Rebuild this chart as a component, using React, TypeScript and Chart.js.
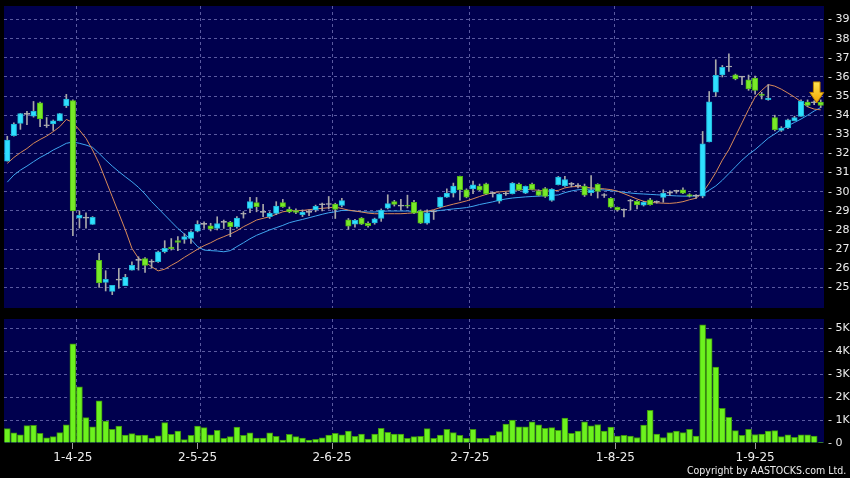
import React, { useEffect, useRef } from 'react';
import { Chart, registerables } from 'chart.js';

Chart.register(...registerables);

// ---------- data ----------
const opens = [
  31.6, 32.93, 33.57, 34.04, 33.95, 34.65, 33.45, 33.55, 33.71, 34.48,
  34.76, 28.62, 28.62, 28.29, 26.41, 25.26, 24.79, 25.38, 25.09, 25.9,
  26.41, 26.5, 26.32, 26.34, 26.86, 27.1, 27.44, 27.51, 27.56, 27.94,
  28.29, 28.22, 28.08, 28.4, 28.4, 28.17, 28.82, 29.13, 29.43, 28.92,
  28.7, 28.87, 29.43, 29.08, 29.02, 28.8, 28.92, 29.05, 29.32, 29.33,
  29.35, 29.28, 28.53, 28.3, 28.62, 28.35, 28.37, 28.6, 29.14, 29.48,
  29.25, 29.26, 29.45, 29.0, 28.36, 28.95, 29.2, 29.72, 29.93, 30.8,
  30.1, 30.14, 30.3, 30.41, 29.9, 29.5, 29.88, 29.9, 30.4, 29.92,
  30.4, 30.05, 30.17, 29.55, 30.37, 30.3, 30.38, 30.3, 30.3, 29.95,
  30.38, 29.8, 29.66, 29.18, 29.03, 29.5, 29.5, 29.29, 29.58, 29.45,
  29.7, 29.93, 30.02, 30.1, 29.85, 29.77, 29.77, 32.6, 35.2, 36.1,
  36.52, 36.11, 35.99, 35.85, 35.94, 35.1, 34.81, 33.88, 33.2, 33.33,
  33.71, 33.94, 34.69, 34.65, 34.69,
];
const highs = [
  32.9, 33.6, 34.1, 34.2, 34.72, 34.68, 33.88, 33.75, 34.1, 35.09,
  34.8, 29.0, 28.9, 28.7, 26.78, 25.87, 25.1, 25.99, 25.68, 26.34,
  26.6, 26.55, 26.45, 26.9, 27.44, 27.55, 27.65, 27.8, 27.95, 28.48,
  28.43, 28.35, 28.69, 28.52, 28.45, 28.7, 28.96, 29.7, 29.7, 29.34,
  28.95, 29.48, 29.6, 29.2, 29.1, 29.05, 29.05, 29.3, 29.4, 29.75,
  29.4, 29.65, 28.6, 28.55, 28.65, 28.42, 28.62, 29.1, 29.84, 29.55,
  29.6, 29.82, 29.55, 29.05, 29.05, 29.02, 29.72, 30.15, 30.45, 30.82,
  30.15, 30.55, 30.4, 30.45, 29.98, 29.9, 29.98, 30.48, 30.45, 30.3,
  30.45, 30.1, 30.22, 30.16, 30.8, 30.8, 30.48, 30.42, 30.4, 30.84,
  30.42, 29.9, 29.7, 29.2, 29.1, 29.6, 29.55, 29.5, 29.65, 29.52,
  30.1, 30.05, 30.08, 30.2, 29.9, 29.85, 33.15, 35.24, 36.9, 36.6,
  37.21, 36.15, 36.02, 36.1, 36.05, 35.2, 35.6, 34.0, 33.4, 33.8,
  33.95, 34.8, 34.8, 34.75, 34.8,
];
const lows = [
  31.6, 32.9, 33.26, 33.5, 33.9, 33.4, 33.36, 33.2, 33.7, 34.4,
  27.7, 28.1, 28.1, 28.29, 25.0, 24.81, 24.62, 24.95, 25.09, 25.9,
  25.9, 25.78, 26.0, 26.3, 26.8, 26.95, 26.92, 27.3, 27.3, 27.9,
  28.08, 27.95, 28.0, 28.08, 27.65, 28.1, 28.62, 28.9, 28.95, 28.69,
  28.6, 28.8, 29.18, 28.9, 28.85, 28.7, 28.75, 28.95, 29.0, 29.1,
  28.6, 29.2, 28.03, 28.15, 28.28, 28.15, 28.3, 28.45, 29.1, 29.25,
  29.05, 29.15, 28.85, 28.33, 28.3, 28.55, 29.15, 29.7, 29.72, 29.56,
  29.68, 29.9, 30.05, 29.86, 29.72, 29.4, 29.8, 29.88, 30.05, 29.9,
  30.1, 29.78, 29.7, 29.5, 30.35, 30.28, 30.25, 30.2, 29.75, 29.8,
  29.67, 29.7, 29.15, 28.98, 28.68, 29.05, 29.1, 29.25, 29.3, 29.4,
  29.45, 29.8, 29.92, 29.9, 29.72, 29.65, 29.68, 32.6, 34.98, 36.0,
  36.29, 35.85, 35.6, 35.3, 35.1, 34.85, 34.78, 33.18, 33.15, 33.3,
  33.7, 33.94, 34.45, 34.55, 34.4,
];
const closes = [
  32.7, 33.54, 34.09, 34.04, 34.2, 33.8, 33.45, 33.71, 34.09, 34.84,
  29.0, 28.76, 28.62, 28.66, 25.23, 25.42, 25.1, 25.38, 25.52, 26.15,
  26.41, 26.15, 26.32, 26.86, 27.04, 27.02, 27.35, 27.65, 27.9, 28.29,
  28.29, 28.05, 28.34, 28.4, 28.17, 28.62, 28.82, 29.48, 29.22, 28.92,
  28.87, 29.25, 29.2, 28.95, 28.92, 28.93, 28.92, 29.23, 29.32, 29.33,
  29.08, 29.53, 28.2, 28.5, 28.3, 28.22, 28.58, 29.04, 29.38, 29.34,
  29.25, 29.24, 28.88, 28.36, 28.9, 28.95, 29.7, 29.93, 30.3, 30.1,
  29.72, 30.36, 30.08, 29.88, 29.9, 29.87, 29.88, 30.45, 30.08, 30.28,
  30.12, 29.8, 29.75, 30.14, 30.77, 30.64, 30.38, 30.3, 29.82, 30.08,
  30.02, 29.8, 29.19, 29.05, 29.03, 29.5, 29.31, 29.45, 29.32, 29.45,
  29.93, 29.93, 30.02, 29.93, 29.77, 29.77, 32.5, 34.7, 36.08, 36.5,
  36.52, 35.9, 35.99, 35.37, 35.3, 35.03, 34.9, 33.24, 33.33, 33.76,
  33.88, 34.72, 34.51, 34.65, 34.51,
];
const maShort = [
  31.48, 31.79, 32.04, 32.26, 32.53, 32.73, 32.91, 33.14, 33.4, 33.78,
  33.62, 33.22, 32.79, 32.18, 31.48, 30.61, 29.74, 28.87, 28.0, 27.04,
  26.52, 26.34, 26.08, 25.86, 25.95, 26.15, 26.34, 26.57, 26.78, 26.99,
  27.18, 27.33, 27.51, 27.65, 27.79, 27.96, 28.17, 28.34, 28.52, 28.61,
  28.69, 28.82, 28.95, 29.0, 29.02, 29.02, 29.06, 29.1, 29.13, 29.16,
  29.2, 29.12, 29.04, 28.99, 28.94, 28.88, 28.85, 28.85, 28.85, 28.85,
  28.85, 28.87, 28.9, 28.93, 28.98, 29.06, 29.17, 29.26, 29.35, 29.43,
  29.52, 29.63, 29.75, 29.86, 29.95, 29.99, 30.02, 30.06, 30.1, 30.12,
  30.11, 30.07, 30.03, 30.04, 30.07, 30.2, 30.26, 30.27, 30.24, 30.2,
  30.17, 30.15, 30.11, 30.03, 29.9, 29.76, 29.62, 29.5, 29.44, 29.42,
  29.4, 29.39, 29.42, 29.48, 29.58, 29.66, 29.95, 30.45, 31.0, 31.65,
  32.2, 32.9, 33.6, 34.3, 34.95, 35.3, 35.6, 35.52, 35.36, 35.16,
  34.95, 34.7, 34.44, 34.32, 34.28,
];
const maLong = [
  30.5, 30.87, 31.13, 31.34, 31.57, 31.79, 31.97, 32.18, 32.35, 32.53,
  32.6, 32.53, 32.44, 32.32, 32.0, 31.66, 31.34, 31.05, 30.78, 30.52,
  30.23, 29.88, 29.48, 29.13, 28.78, 28.43, 28.08, 27.79, 27.51, 27.13,
  26.95, 26.92, 26.9, 26.86, 26.92, 27.13, 27.33, 27.54, 27.72, 27.86,
  28.0, 28.12, 28.24, 28.38, 28.47, 28.55, 28.64, 28.73, 28.82, 28.9,
  28.95, 29.02, 29.02, 28.99, 28.95, 28.94, 28.94, 28.97, 28.99, 28.99,
  28.99, 28.99, 28.97, 28.95, 28.95, 28.98, 29.02, 29.06, 29.1, 29.13,
  29.17, 29.24, 29.33, 29.4, 29.47, 29.56, 29.62, 29.67, 29.7, 29.73,
  29.75, 29.77, 29.79, 29.81, 29.83, 29.95, 30.04, 30.1, 30.13, 30.14,
  30.12, 30.09, 30.05, 30.02, 29.97, 29.93, 29.9, 29.88, 29.86, 29.84,
  29.82, 29.8, 29.78, 29.77, 29.77, 29.78, 29.85, 30.08, 30.3, 30.6,
  30.95, 31.3, 31.65, 31.95, 32.2, 32.5, 32.8, 33.02, 33.25, 33.45,
  33.62, 33.8, 34.0, 34.22, 34.4,
];
// volume in thousands
const volumes = [
  0.63, 0.44, 0.36, 0.76, 0.77, 0.42, 0.23, 0.28, 0.45, 0.79,
  4.34, 2.46, 1.11, 0.71, 1.84, 0.96, 0.6, 0.74, 0.35, 0.41,
  0.34, 0.35, 0.22, 0.31, 0.89, 0.38, 0.52, 0.15, 0.34, 0.74,
  0.67, 0.36, 0.55, 0.2, 0.28, 0.7, 0.34, 0.44, 0.22, 0.22,
  0.44, 0.29, 0.13, 0.38, 0.28, 0.22, 0.13, 0.16, 0.23, 0.35,
  0.42, 0.36, 0.52, 0.29, 0.39, 0.17, 0.39, 0.64, 0.47, 0.39,
  0.39, 0.2, 0.28, 0.29, 0.63, 0.2, 0.35, 0.6, 0.45, 0.34,
  0.2, 0.6, 0.2, 0.2, 0.34, 0.5, 0.83, 1.0, 0.71, 0.71,
  0.92, 0.79, 0.64, 0.67, 0.55, 1.09, 0.42, 0.52, 0.93, 0.75,
  0.81, 0.52, 0.7, 0.3, 0.33, 0.3, 0.24, 0.78, 1.43, 0.39,
  0.24, 0.45, 0.52, 0.45, 0.6, 0.3, 5.17, 4.56, 3.32, 1.52,
  1.12, 0.54, 0.34, 0.6, 0.37, 0.39, 0.52, 0.54, 0.28, 0.36,
  0.25, 0.36, 0.36, 0.3, 0.03,
];
const priceTicks = [25, 26, 27, 28, 29, 30, 31, 32, 33, 34, 35, 36, 37, 38, 39];
const volumeTicks = [0, 1, 2, 3, 4, 5];
const dateLabels = ['1-4-25', '2-5-25', '2-6-25', '2-7-25', '1-8-25', '1-9-25'];
const labelPositions = [10, 29, 49.5, 70.5, 92.7, 114];
const gridPositions = [10.5, 29.5, 49.5, 70.5, 92.5, 113.5];

// ---------- styles ----------
const NAVY = '#00004e';
const GRID = '#5a5aa0';
const UP = '#2fe0ff';
const UP_EDGE = '#1fb4d6';
const DOWN = '#78ea28';
const DOWN_EDGE = '#4fb416';
const FLAT = '#b4b4b4';
const WICK = '#a8a8a8';
const TEXT = '#ececec';
const FONT = '"DejaVu Sans", Verdana, sans-serif';

const X_MIN = -0.5;
const X_MAX = opens.length - 0.5;

const panelBg = {
  id: 'panelBg',
  beforeDraw(chart: any) {
    const { ctx, chartArea } = chart;
    ctx.save();
    ctx.fillStyle = NAVY;
    ctx.fillRect(chartArea.left, chartArea.top, chartArea.right - chartArea.left, chartArea.bottom - chartArea.top);
    ctx.restore();
  },
};

const lastArrow = {
  id: 'lastArrow',
  afterDatasetsDraw(chart: any) {
    const last = closes.length - 1;
    const cx = chart.scales.x.getPixelForValue(last) - 4;
    const tip = chart.scales.y.getPixelForValue(highs[last]) + 3;
    const ctx = chart.ctx;
    ctx.save();
    const g = ctx.createLinearGradient(0, tip - 21, 0, tip);
    g.addColorStop(0, '#ffe452');
    g.addColorStop(1, '#f2a600');
    ctx.beginPath();
    ctx.moveTo(cx - 3.3, tip - 21);
    ctx.lineTo(cx + 3.3, tip - 21);
    ctx.lineTo(cx + 3.3, tip - 10.5);
    ctx.lineTo(cx + 7, tip - 10.5);
    ctx.lineTo(cx, tip);
    ctx.lineTo(cx - 7, tip - 10.5);
    ctx.lineTo(cx - 3.3, tip - 10.5);
    ctx.closePath();
    ctx.fillStyle = g;
    ctx.fill();
    ctx.lineWidth = 1;
    ctx.strokeStyle = '#c08400';
    ctx.stroke();
    ctx.restore();
  },
};

function rightAxisFit(scale: any) {
  scale.width = 26;
  scale.paddingTop = 0;
  scale.paddingBottom = 0;
}

export default function App() {
  const priceRef = useRef<HTMLCanvasElement>(null);
  const volRef = useRef<HTMLCanvasElement>(null);

  useEffect(() => {
    const bodyColor = opens.map((o, i) => (closes[i] > o ? UP : closes[i] < o ? DOWN : FLAT));
    const bodyEdge = opens.map((o, i) => (closes[i] > o ? UP_EDGE : closes[i] < o ? DOWN_EDGE : FLAT));

    const price = new Chart(priceRef.current as HTMLCanvasElement, {
      type: 'bar',
      data: {
        datasets: [
          {
            type: 'bar',
            label: 'body',
            data: opens.map((o, i) => ({ x: i, y: [Math.min(o, closes[i]), Math.max(o, closes[i])] })) as any,
            backgroundColor: bodyColor,
            borderColor: bodyEdge,
            borderWidth: 1,
            borderSkipped: false,
            barThickness: 5.5,
            grouped: false,
            minBarLength: 1,
            order: 0,
          } as any,
          {
            type: 'bar',
            label: 'wick',
            data: lows.map((l, i) => ({ x: i, y: [l, highs[i]] })) as any,
            backgroundColor: WICK,
            borderWidth: 0,
            barThickness: 1,
            grouped: false,
            order: 1,
          } as any,
          {
            type: 'line',
            label: 'MA short',
            data: maShort.map((v, i) => ({ x: i, y: v })),
            borderColor: '#d98a58',
            borderWidth: 1,
            pointRadius: 0,
            tension: 0,
            order: 2,
          } as any,
          {
            type: 'line',
            label: 'MA long',
            data: maLong.map((v, i) => ({ x: i, y: v })),
            borderColor: '#3fa6f0',
            borderWidth: 1,
            pointRadius: 0,
            tension: 0,
            order: 3,
          } as any,
        ],
      },
      options: {
        responsive: false,
        animation: false,
        devicePixelRatio: 1,
        events: [],
        layout: { padding: { left: 4, right: 0, top: 6, bottom: 0 } },
        plugins: { legend: { display: false }, tooltip: { enabled: false } },
        scales: {
          x: {
            type: 'linear',
            min: X_MIN,
            max: X_MAX,
            offset: false,
            afterBuildTicks: (s: any) => { s.ticks = gridPositions.map((v) => ({ value: v })); },
            afterFit: (s: any) => { s.height = 4; s.paddingLeft = 0; s.paddingRight = 0; },
            ticks: { display: false },
            grid: { color: GRID, lineWidth: 1, drawTicks: false, offset: false },
            border: { display: false, dash: [3, 3] },
          },
          y: {
            type: 'linear',
            position: 'right',
            min: 23.92,
            max: 39.71,
            afterBuildTicks: (s: any) => { s.ticks = priceTicks.map((v) => ({ value: v })); },
            afterFit: rightAxisFit,
            ticks: {
              color: TEXT,
              font: { family: FONT, size: 11 },
              padding: 4,
              callback: (v: any) => '- ' + v,
            },
            grid: { color: GRID, lineWidth: 1, drawTicks: false },
            border: { display: false, dash: [3, 3] },
          },
        },
      } as any,
      plugins: [panelBg, lastArrow],
    });

    const vol = new Chart(volRef.current as HTMLCanvasElement, {
      type: 'bar',
      data: {
        datasets: [
          {
            label: 'volume',
            data: volumes.map((v, i) => ({ x: i, y: v })),
            backgroundColor: '#6cf21e',
            borderColor: '#3d930e',
            borderWidth: 1,
            barThickness: 6,
            grouped: false,
            xAxisID: 'x',
          } as any,
        ],
      },
      options: {
        responsive: false,
        animation: false,
        devicePixelRatio: 1,
        events: [],
        layout: { padding: { left: 4, right: 0, top: 7, bottom: 0 } },
        plugins: { legend: { display: false }, tooltip: { enabled: false } },
        scales: {
          x: {
            type: 'linear',
            position: 'bottom',
            min: X_MIN,
            max: X_MAX,
            offset: false,
            afterBuildTicks: (s: any) => { s.ticks = labelPositions.map((v) => ({ value: v })); },
            afterFit: (s: any) => { s.height = 35; s.paddingLeft = 0; s.paddingRight = 0; },
            ticks: {
              color: TEXT,
              font: { family: FONT, size: 12 },
              padding: 2,
              maxRotation: 0,
              autoSkip: false,
              callback: (_v: any, i: number) => dateLabels[i],
            },
            grid: { drawOnChartArea: false, drawTicks: true, tickLength: 6, tickColor: '#9a9a9a', tickBorderDash: [], offset: false },
            border: { display: false },
          },
          xg: {
            type: 'linear',
            position: 'bottom',
            min: X_MIN,
            max: X_MAX,
            offset: false,
            afterBuildTicks: (s: any) => { s.ticks = gridPositions.map((v) => ({ value: v })); },
            afterFit: (s: any) => { s.height = 0; s.paddingLeft = 0; s.paddingRight = 0; },
            ticks: { display: false },
            grid: { color: GRID, drawTicks: false, offset: false },
            border: { display: false, dash: [3, 3] },
          },
          y: {
            type: 'linear',
            position: 'right',
            min: 0,
            max: 5.42,
            afterBuildTicks: (s: any) => { s.ticks = volumeTicks.map((v) => ({ value: v })); },
            afterFit: rightAxisFit,
            ticks: {
              color: TEXT,
              font: { family: FONT, size: 11 },
              padding: 4,
              callback: (v: any) => (v === 0 ? '- 0' : '- ' + v + 'K'),
            },
            grid: {
              color: (c: any) => (c.tick && c.tick.value === 0 ? 'rgba(0,0,0,0)' : GRID),
              drawTicks: false,
            },
            border: { display: false, dash: [3, 3] },
          },
        },
      } as any,
      plugins: [panelBg],
    });

    return () => {
      price.destroy();
      vol.destroy();
    };
  }, []);

  return (
    <div
      style={{
        position: 'fixed',
        left: 0,
        top: 0,
        width: 850,
        height: 478,
        background: '#000',
        overflow: 'hidden',
      }}
    >
      <canvas ref={priceRef} width={850} height={312} style={{ position: 'absolute', left: 0, top: 0, width: 850, height: 312 }} />
      <canvas ref={volRef} width={850} height={166} style={{ position: 'absolute', left: 0, top: 312, width: 850, height: 166 }} />
      <div
        style={{
          position: 'absolute',
          right: 4,
          top: 464,
          fontFamily: FONT,
          fontSize: 11,
          lineHeight: '13px',
          color: TEXT,
          whiteSpace: 'nowrap',
          transform: 'scaleX(0.86)',
          transformOrigin: 'right center',
        }}
      >
        Copyright by AASTOCKS.com Ltd.
      </div>
    </div>
  );
}
